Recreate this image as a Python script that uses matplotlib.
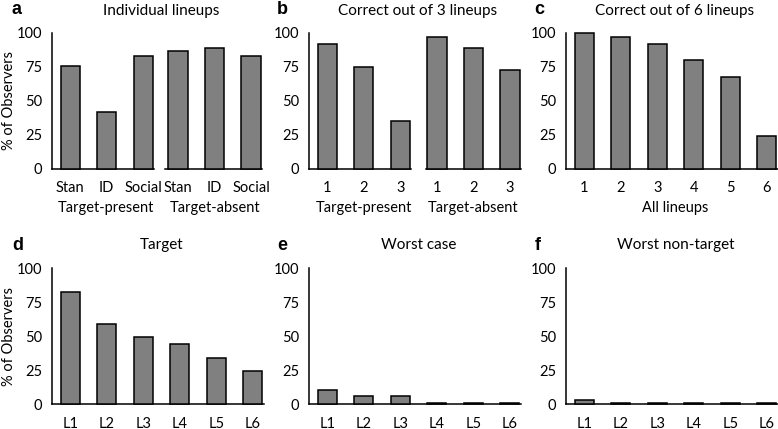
import matplotlib
matplotlib.use('Agg')
import matplotlib.pyplot as plt

plt.rcParams['font.family'] = ['Lato', 'DejaVu Sans']

# Dane (% obserwatorów)
cond_labels = ['Stan', 'ID', 'Social']
a_present = [76, 42, 83]
a_absent = [87, 89, 83]

count_labels3 = ['1', '2', '3']
b_present = [92, 75, 35]
b_absent = [97, 89, 73]

count_labels6 = ['1', '2', '3', '4', '5', '6']
c_all = [100, 97, 92, 80, 68, 24]

lineup_labels = ['L1', 'L2', 'L3', 'L4', 'L5', 'L6']
d_target = [82, 59, 49, 44, 34, 24]
e_worst = [10, 6, 6, 1, 1, 1]
f_nontarget = [3, 1, 1, 1, 1, 1]

W, H = 778, 429
UNIT = 36.5          # piksele na jedną kategorię
BAR_W = 0.53
FS = 10.5

fig = plt.figure(figsize=(W / 100, H / 100), dpi=100)


def make_axes(x0, y_top, y_base, lo, hi, yaxis=True):
    # x0 = lewa krawędź w pikselach, lo/hi = zakres osi x w jednostkach kategorii
    w = (hi - lo) * UNIT
    ax = fig.add_axes([x0 / W, 1 - y_base / H, w / W, (y_base - y_top) / H])
    ax.set_xlim(lo, hi)
    ax.set_ylim(0, 100)
    for s in ['top', 'right']:
        ax.spines[s].set_visible(False)
    ax.spines['bottom'].set_linewidth(1.1)
    ax.spines['left'].set_linewidth(1.1)
    ax.tick_params(length=0, labelsize=FS)
    ax.tick_params(axis='y', pad=7)
    ax.tick_params(axis='x', pad=9)
    ax.set_yticks([0, 25, 50, 75, 100])
    if not yaxis:
        ax.spines['left'].set_visible(False)
        ax.set_yticks([])
    ax.patch.set_alpha(0)
    return ax


def bars(ax, labels, values):
    xs = list(range(len(values)))
    ax.bar(xs, values, width=BAR_W, color='#808080', edgecolor='black',
           linewidth=1.1, zorder=3, clip_on=False)
    ax.set_xticks(xs)
    ax.set_xticklabels(labels)


top_t, top_b = 33, 169
bot_t, bot_b = 268, 404

def group_label(x, y, t):
    fig.text(x / W, 1 - y / H, t, ha='center', va='center', fontsize=FS)

# a
ax = make_axes(52, top_t, top_b, -0.5, 2.3)
bars(ax, cond_labels, a_present)
group_label(106, 208, 'Target-present')
ax = make_axes(178 - 0.35 * UNIT, top_t, top_b, -0.35, 2.3, yaxis=False)
bars(ax, cond_labels, a_absent)
group_label(215, 208, 'Target-absent')

# b
ax = make_axes(309, top_t, top_b, -0.5, 2.3)
bars(ax, count_labels3, b_present)
group_label(364, 208, 'Target-present')
ax = make_axes(437 - 0.3 * UNIT, top_t, top_b, -0.3, 2.3, yaxis=False)
bars(ax, count_labels3, b_absent)
group_label(473, 208, 'Target-absent')

# c
ax = make_axes(566, top_t, top_b, -0.5, 5.3)
bars(ax, count_labels6, c_all)
group_label(675, 208, 'All lineups')

# d, e, f
for x0, vals in [(52, d_target), (309, e_worst), (566, f_nontarget)]:
    ax = make_axes(x0, bot_t, bot_b, -0.5, 5.3)
    bars(ax, lineup_labels, vals)

# etykiety osi y
for yc in [100, 336]:
    fig.text(9 / W, 1 - yc / H, '% of Observers', rotation=90,
             ha='center', va='center', fontsize=FS)

# tytuły i litery paneli
titles = [(161, 11, 'Individual lineups'), (418, 11, 'Correct out of 3 lineups'),
          (675, 11, 'Correct out of 6 lineups'), (162, 245, 'Target'),
          (419, 245, 'Worst case'), (676, 245, 'Worst non-target')]
for x, y, t in titles:
    fig.text(x / W, 1 - y / H, t, ha='center', va='center', fontsize=FS + 0.5)

letters = [(12, 10, 'a'), (277, 10, 'b'), (534, 10, 'c'),
           (12, 246, 'd'), (277, 246, 'e'), (535, 246, 'f')]
for x, y, t in letters:
    fig.text(x / W, 1 - y / H, t, ha='left', va='center', fontsize=13,
             fontweight='bold', family=['Liberation Sans', 'DejaVu Sans'])

fig.savefig('out.png', dpi=100)
